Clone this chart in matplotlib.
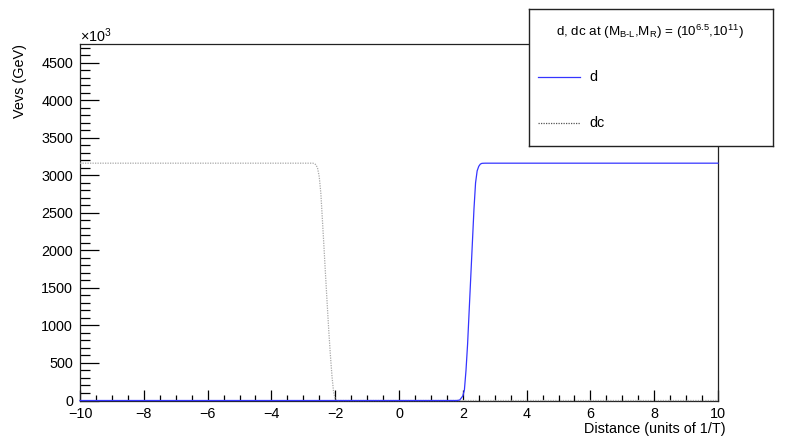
import matplotlib
matplotlib.use("Agg")
import matplotlib.pyplot as plt
from matplotlib.ticker import MultipleLocator
from matplotlib.lines import Line2D

plt.rcParams['font.family'] = ['Liberation Sans', 'DejaVu Sans']
plt.rcParams['mathtext.fontset'] = 'custom'
plt.rcParams['mathtext.rm'] = 'Liberation Sans'
plt.rcParams['mathtext.it'] = 'Liberation Sans:italic'
plt.rcParams['mathtext.default'] = 'regular'

# ---- data (vevs in units of 10^3 GeV) ----
d_x = [-10, 1.80, 1.90, 2.00, 2.05, 2.10, 2.15, 2.20, 2.25, 2.30, 2.35, 2.40,
       2.45, 2.50, 2.55, 2.60, 2.70, 10]
d_vev = [0, 0, 5, 60, 140, 400, 750, 1200, 1650, 2100, 2550, 2900,
         3060, 3120, 3150, 3160, 3162, 3162]

dc_x = [-10, -2.70, -2.65, -2.60, -2.55, -2.50, -2.45, -2.40, -2.35, -2.30,
        -2.25, -2.20, -2.15, -2.10, -2.05, -2.00, -1.95, 10]
dc_vev = [3162, 3162, 3155, 3140, 3090, 2980, 2760, 2400, 2030, 1650,
          1280, 920, 600, 320, 110, 20, 0, 0]

legend_title = r"d, dc at (M$_{\text{B-L}}$,M$_{R}$) = (10$^{6.5}$,10$^{11}$)"
x_label = "Distance (units of 1/T)"
y_label = "Vevs (GeV)"

FS = 10.4
W, H = 798, 447
fig = plt.figure(figsize=(W / 100, H / 100), dpi=100)
L, R, T, B = 80, 718, 44, 400.5
ax = fig.add_axes([L / W, 1 - B / H, (R - L) / W, (B - T) / H])

dc_color = '#a8a8a8'
d_color = '#3535ff'
ax.plot(dc_x, dc_vev, color=dc_color, lw=0.9, ls=(0, (1, 1)), zorder=3, clip_on=False)
ax.plot(d_x, d_vev, color=d_color, lw=0.9, zorder=4, clip_on=False)

ax.set_xlim(-10, 10)
ax.set_ylim(0, 4750)
ax.xaxis.set_major_locator(MultipleLocator(2))
ax.xaxis.set_minor_locator(MultipleLocator(0.5))
ax.yaxis.set_major_locator(MultipleLocator(500))
ax.yaxis.set_minor_locator(MultipleLocator(100))
ax.tick_params(axis='x', which='major', direction='in', length=8, width=0.9,
               top=False, labelsize=FS, pad=5)
ax.tick_params(axis='x', which='minor', direction='in', length=4.2, width=0.9, top=False)
ax.tick_params(axis='y', which='major', direction='in', length=13.5, width=0.9,
               right=False, labelsize=FS, pad=5)
ax.tick_params(axis='y', which='minor', direction='in', length=7, width=0.9, right=False)
ax.xaxis.set_major_formatter(plt.FuncFormatter(lambda v, p: f"{v:.0f}".replace('-', '\u2212')))
for s in ax.spines.values():
    s.set_linewidth(0.9)
    s.set_color('#222222')

fig.text(L / W, 1 - 36 / H, r"$\times$10$^{3}$", fontsize=FS, ha='left', va='center')
fig.text(20.5 / W, 1 - 44 / H, y_label, rotation=90, fontsize=FS, ha='center', va='top')
fig.text(726 / W, 1 - 429 / H, x_label, fontsize=FS, ha='right', va='center')

# ---- legend box ----
lx0, lx1, ly0, ly1 = 529, 773, 9, 146
lax = fig.add_axes([lx0 / W, 1 - ly1 / H, (lx1 - lx0) / W, (ly1 - ly0) / H], zorder=10)
lax.set_xlim(lx0, lx1)
lax.set_ylim(ly1, ly0)
lax.set_xticks([])
lax.set_yticks([])
lax.set_facecolor('white')
for s in lax.spines.values():
    s.set_linewidth(1.0)
    s.set_color('#222222')
lax.text(650, 31.5, legend_title, fontsize=9.6, ha='center', va='center')
lax.add_line(Line2D([538, 580], [77, 77], color=d_color, lw=0.9))
lax.text(589, 77, "d", fontsize=FS, ha='left', va='center')
lax.add_line(Line2D([538, 580], [123, 123], color='#555555', lw=0.9, ls=(0, (1, 1))))
lax.text(589, 123, "dc", fontsize=FS, ha='left', va='center')

fig.savefig("out.png", dpi=100)
